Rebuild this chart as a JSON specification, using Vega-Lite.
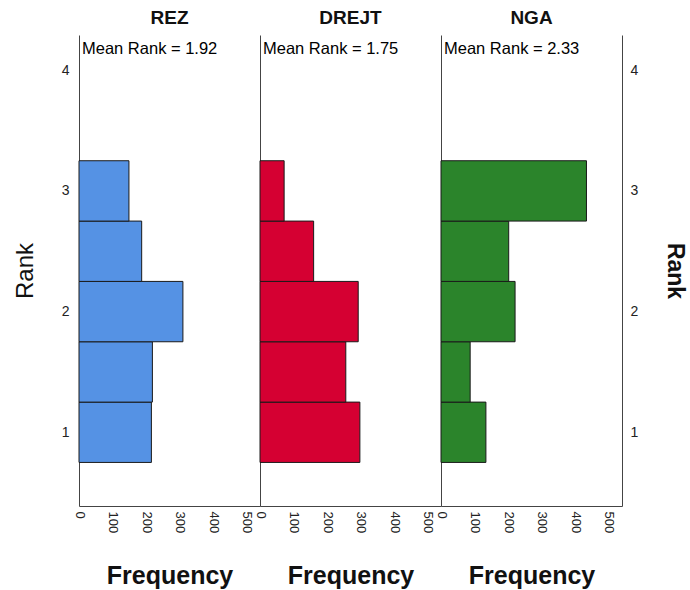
{
  "$schema": "https://vega.github.io/schema/vega-lite/v6.json",
  "background": "white",
  "padding": {"left": 13, "top": 9, "right": 5, "bottom": 5},
  "bounds": "flush",
  "datasets": {
    "bins": [
      {"var": "REZ", "bin_start": 0.75, "bin_end": 1.25, "frequency": 216},
      {"var": "REZ", "bin_start": 1.25, "bin_end": 1.75, "frequency": 219},
      {"var": "REZ", "bin_start": 1.75, "bin_end": 2.25, "frequency": 310},
      {"var": "REZ", "bin_start": 2.25, "bin_end": 2.75, "frequency": 187},
      {"var": "REZ", "bin_start": 2.75, "bin_end": 3.25, "frequency": 149},
      {"var": "DREJT", "bin_start": 0.75, "bin_end": 1.25, "frequency": 298},
      {"var": "DREJT", "bin_start": 1.25, "bin_end": 1.75, "frequency": 256},
      {"var": "DREJT", "bin_start": 1.75, "bin_end": 2.25, "frequency": 293},
      {"var": "DREJT", "bin_start": 2.25, "bin_end": 2.75, "frequency": 160},
      {"var": "DREJT", "bin_start": 2.75, "bin_end": 3.25, "frequency": 72},
      {"var": "NGA", "bin_start": 0.75, "bin_end": 1.25, "frequency": 134},
      {"var": "NGA", "bin_start": 1.25, "bin_end": 1.75, "frequency": 87},
      {"var": "NGA", "bin_start": 1.75, "bin_end": 2.25, "frequency": 221},
      {"var": "NGA", "bin_start": 2.25, "bin_end": 2.75, "frequency": 202},
      {"var": "NGA", "bin_start": 2.75, "bin_end": 3.25, "frequency": 434}
    ],
    "means": [
      {"var": "REZ", "label": "Mean Rank = 1.92"},
      {"var": "DREJT", "label": "Mean Rank = 1.75"},
      {"var": "NGA", "label": "Mean Rank = 2.33"}
    ]
  },
  "spacing": 0,
  "hconcat": [
    {
      "width": 181,
      "height": 471,
      "title": "REZ",
      "layer": [
        {
          "data": {"name": "bins"},
          "transform": [{"filter": "datum.var === 'REZ'"}],
          "mark": {"type": "bar", "color": "#5592E4", "stroke": "#1a1a1a", "strokeWidth": 1},
          "encoding": {
            "x": {"field": "frequency", "type": "quantitative", "scale": {"domain": [0, 540], "nice": false}, "axis": {"title": "Frequency", "values": [0, 100, 200, 300, 400, 500], "labelOverlap": false}},
            "x2": {"datum": 0},
            "y": {"field": "bin_start", "type": "quantitative", "scale": {"domain": [0.389, 4.292], "nice": false, "zero": false}, "axis": {"title": "Rank", "values": [1, 2, 3, 4], "format": "d", "labelPadding": 10, "titlePadding": 24, "titleFontWeight": "normal", "titleFontSize": 24}},
            "y2": {"field": "bin_end"}
          }
        },
        {
          "data": {"name": "means"},
          "transform": [{"filter": "datum.var === 'REZ'"}],
          "mark": {"type": "text", "align": "left", "baseline": "middle", "dx": 3, "dy": 14, "fontSize": 16.5, "font": "Liberation Sans", "color": "#000"},
          "encoding": {
            "x": {"datum": 0, "type": "quantitative", "axis": {"title": "Frequency", "values": [0, 100, 200, 300, 400, 500], "labelOverlap": false}},
            "y": {"datum": 4.292, "type": "quantitative", "axis": {"title": "Rank", "values": [1, 2, 3, 4], "format": "d", "labelPadding": 10, "titlePadding": 24, "titleFontWeight": "normal", "titleFontSize": 24}},
            "text": {"field": "label"}
          }
        }
      ]
    },
    {
      "width": 181,
      "height": 471,
      "title": "DREJT",
      "layer": [
        {
          "data": {"name": "bins"},
          "transform": [{"filter": "datum.var === 'DREJT'"}],
          "mark": {"type": "bar", "color": "#D50032", "stroke": "#1a1a1a", "strokeWidth": 1},
          "encoding": {
            "x": {"field": "frequency", "type": "quantitative", "scale": {"domain": [0, 540], "nice": false}, "axis": {"title": "Frequency", "values": [0, 100, 200, 300, 400, 500], "labelOverlap": false}},
            "x2": {"datum": 0},
            "y": {"field": "bin_start", "type": "quantitative", "scale": {"domain": [0.389, 4.292], "nice": false, "zero": false}, "axis": {"title": null, "labels": false, "ticks": false}},
            "y2": {"field": "bin_end"}
          }
        },
        {
          "data": {"name": "means"},
          "transform": [{"filter": "datum.var === 'DREJT'"}],
          "mark": {"type": "text", "align": "left", "baseline": "middle", "dx": 3, "dy": 14, "fontSize": 16.5, "font": "Liberation Sans", "color": "#000"},
          "encoding": {
            "x": {"datum": 0, "type": "quantitative", "axis": {"title": "Frequency", "values": [0, 100, 200, 300, 400, 500], "labelOverlap": false}},
            "y": {"datum": 4.292, "type": "quantitative", "axis": {"title": null, "labels": false, "ticks": false}},
            "text": {"field": "label"}
          }
        }
      ]
    },
    {
      "width": 181,
      "height": 471,
      "title": "NGA",
      "resolve": {"axis": {"y": "independent"}},
      "layer": [
        {
          "data": {"name": "bins"},
          "transform": [{"filter": "datum.var === 'NGA'"}],
          "mark": {"type": "bar", "color": "#2B842B", "stroke": "#1a1a1a", "strokeWidth": 1},
          "encoding": {
            "x": {"field": "frequency", "type": "quantitative", "scale": {"domain": [0, 540], "nice": false}, "axis": {"title": "Frequency", "values": [0, 100, 200, 300, 400, 500], "labelOverlap": false}},
            "x2": {"datum": 0},
            "y": {"field": "bin_start", "type": "quantitative", "scale": {"domain": [0.389, 4.292], "nice": false, "zero": false}, "axis": {"title": null, "labels": false, "ticks": false}},
            "y2": {"field": "bin_end"}
          }
        },
        {
          "data": {"name": "means"},
          "transform": [{"filter": "datum.var === 'NGA'"}],
          "mark": {"type": "text", "align": "left", "baseline": "middle", "dx": 3, "dy": 14, "fontSize": 16.5, "font": "Liberation Sans", "color": "#000"},
          "encoding": {
            "x": {"datum": 0, "type": "quantitative", "axis": {"title": "Frequency", "values": [0, 100, 200, 300, 400, 500], "labelOverlap": false}},
            "y": {"datum": 4.292, "type": "quantitative", "axis": {"orient": "right", "title": "Rank", "values": [1, 2, 3, 4], "format": "d", "labelPadding": 8, "titlePadding": 25, "titleFontSize": 23}},
            "text": {"field": "label"}
          }
        }
      ]
    }
  ],
  "config": {
    "view": {"stroke": null},
    "font": "Liberation Sans",
    "title": {"fontSize": 19, "fontWeight": "bold", "font": "Liberation Sans", "color": "#111", "offset": 7},
    "axis": {
      "grid": false,
      "ticks": false,
      "domainColor": "#444",
      "domainWidth": 1,
      "labelFont": "Liberation Sans",
      "labelFontSize": 14,
      "labelColor": "#222",
      "titleFont": "Liberation Sans",
      "titleFontSize": 24,
      "titleFontWeight": "bold",
      "titleColor": "#111"
    },
    "axisX": {"labelAngle": 90, "labelPadding": 5, "titlePadding": 31, "titleFontSize": 25, "labelFontSize": 13, "labelOverlap": false, "labelBound": false, "labelFlush": false}
  }
}
